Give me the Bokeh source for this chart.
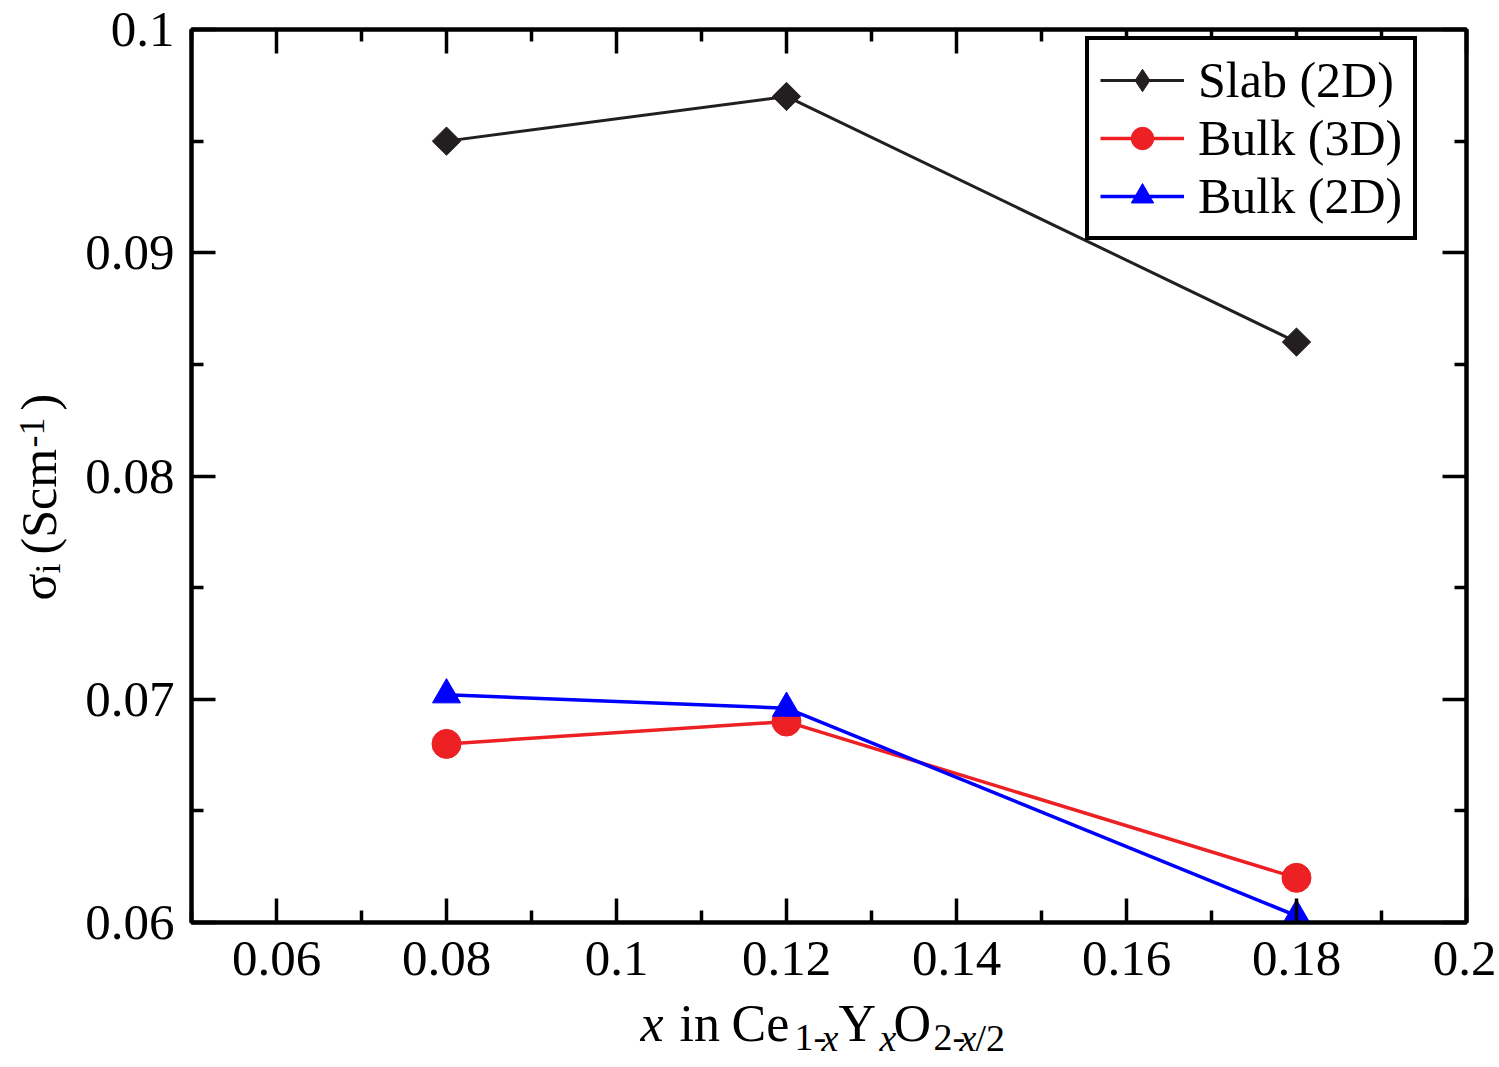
from bokeh.plotting import figure
from bokeh.layouts import row, column
from bokeh.models import (FixedTicker, LinearAxis, Range1d, Legend, LegendItem, Label,
                          CustomJSTickFormatter)
from bokeh.embed import file_html
from bokeh.resources import INLINE
import numpy as np

# ---------------- data ----------------
x_vals = [0.08, 0.12, 0.18]
slab_2d = [0.0950, 0.0970, 0.0860]
bulk_3d = [0.0680, 0.0690, 0.0620]
bulk_2d = [0.0702, 0.0696, 0.0603]

x_major = [0.06, 0.08, 0.1, 0.12, 0.14, 0.16, 0.18, 0.2]
x_labels = ["0.06", "0.08", "0.1", "0.12", "0.14", "0.16", "0.18", "0.2"]
x_minor = [0.05, 0.07, 0.09, 0.11, 0.13, 0.15, 0.17, 0.19]
y_major = [0.06, 0.07, 0.08, 0.09, 0.1]
y_labels = ["0.06", "0.07", "0.08", "0.09", "0.1"]
y_minor = [0.065, 0.075, 0.085, 0.095]

series_names = ["Slab (2D)", "Bulk (3D)", "Bulk (2D)"]

FONT = "Liberation Serif"
BLACK = "#231f20"
RED = "#ed2024"
BLUE = "#0000ff"

YLAB_W = 80
MAIN_W = 1416
MAIN_H = 993
XLAB_H = 73
FRAME_TOP = 29
FRAME_BOTTOM = 922

p = figure(width=MAIN_W, height=MAIN_H, x_range=Range1d(0.05, 0.2), y_range=Range1d(0.06, 0.1),
           output_backend="svg", toolbar_location=None,
           min_border_left=111, min_border_right=MAIN_W - 1386, min_border_top=FRAME_TOP,
           min_border_bottom=MAIN_H - FRAME_BOTTOM)
p.xgrid.visible = False
p.ygrid.visible = False
p.outline_line_color = "black"
p.outline_line_width = 4
p.background_fill_color = "white"
p.border_fill_color = "white"

fmt = CustomJSTickFormatter(code="return String(parseFloat(tick.toFixed(4)));")
empty_fmt = CustomJSTickFormatter(code="return '';")


def style_axis(ax, labels, ticks, minor, show):
    ax.ticker = FixedTicker(ticks=ticks, minor_ticks=minor)
    ax.axis_line_width = 4
    ax.axis_line_color = "black"
    ax.major_tick_line_width = 3.5
    ax.minor_tick_line_width = 3.5
    ax.major_tick_in = 24
    ax.major_tick_out = 0
    ax.minor_tick_in = 12
    ax.minor_tick_out = 0
    if show:
        ax.formatter = fmt
        ax.major_label_overrides = {t: l for t, l in zip(ticks, labels)}
        ax.major_label_text_font = FONT
        ax.major_label_text_font_size = "51px"
        ax.major_label_text_color = "black"
    else:
        ax.formatter = empty_fmt
        ax.major_label_text_font_size = "1px"
        ax.major_label_standoff = 0


style_axis(p.xaxis[0], x_labels, x_major, x_minor, True)
p.xaxis[0].major_label_standoff = 19
p.xaxis[0].major_label_text_line_height = 1.0
style_axis(p.yaxis[0], y_labels, y_major, y_minor, True)
p.yaxis[0].major_label_standoff = 17

top = LinearAxis()
right = LinearAxis()
style_axis(top, x_labels, x_major, x_minor, False)
style_axis(right, y_labels, y_major, y_minor, False)
p.add_layout(top, "above")
p.add_layout(right, "right")

# ---------------- series ----------------
l1 = p.line(x_vals, slab_2d, line_color=BLACK, line_width=3)
# diamond drawn under the rotated square: it is hidden in the plot but gives the legend its swatch
m1_key = p.scatter(x_vals, slab_2d, marker="diamond", size=19, fill_color=BLACK, line_color=BLACK)
m1 = p.scatter(x_vals, slab_2d, marker="square", angle=np.pi / 4, size=20,
               fill_color=BLACK, line_color=BLACK)
l2 = p.line(x_vals, bulk_3d, line_color=RED, line_width=3.5)
m2 = p.scatter(x_vals, bulk_3d, marker="circle", size=29, fill_color=RED, line_color=RED)
l3 = p.line(x_vals, bulk_2d, line_color=BLUE, line_width=3.5)
m3 = p.scatter(x_vals, bulk_2d, marker="triangle", size=28, fill_color=BLUE, line_color=BLUE)

legend = Legend(items=[
    LegendItem(label=series_names[0], renderers=[l1, m1_key]),
    LegendItem(label=series_names[1], renderers=[l2, m2]),
    LegendItem(label=series_names[2], renderers=[l3, m3]),
], location=(894, 682))
legend.label_text_font = FONT
legend.label_text_font_size = "50px"
legend.label_text_color = "black"
legend.glyph_width = 84
legend.glyph_height = 56
legend.label_height = 56
legend.label_standoff = 14
legend.padding = 11
legend.spacing = 0
legend.margin = 0
legend.border_line_color = "black"
legend.border_line_alpha = 1.0
legend.border_line_width = 4
legend.background_fill_color = "white"
legend.background_fill_alpha = 1
p.add_layout(legend)


# ---------------- axis titles (rich text built from pieces) ----------------
def blank_fig(w, h):
    f = figure(width=w, height=h, x_range=Range1d(0, w), y_range=Range1d(0, h),
               output_backend="svg", toolbar_location=None,
               x_axis_type=None, y_axis_type=None,
               min_border=0, min_border_left=0, min_border_right=0,
               min_border_top=0, min_border_bottom=0)
    f.outline_line_color = None
    f.xgrid.visible = False
    f.ygrid.visible = False
    f.background_fill_color = "white"
    f.border_fill_color = "white"
    return f


def lab(f, text, x, y, size, italic=False, angle=0.0):
    f.add_layout(Label(x=x, y=y, x_units="screen", y_units="screen", text=text,
                       text_font=FONT, text_font_size=size,
                       text_font_style="italic" if italic else "normal",
                       text_color="black", text_align="left", text_baseline="alphabetic",
                       text_line_height=1.0, angle=angle))


# y title: sigma_i (Scm^-1), rotated
fy = blank_fig(YLAB_W, MAIN_H)
A = np.pi / 2
lab(fy, "σ", 38, 322, "50px", angle=A)
lab(fy, "i", 47, 349, "36px", angle=A)
lab(fy, "(Scm", 38, 368, "50px", angle=A)
lab(fy, "-1", 31, 475, "36px", angle=A)
lab(fy, ")", 38, 512, "50px", angle=A)

# x title:  x in Ce(1-x) Y(x) O(2-x/2)
TOTAL_W = YLAB_W + MAIN_W
fx = blank_fig(TOTAL_W, XLAB_H)
MAIN = "52px"
SUB = "38px"
BASE = 43
SB = 29
lab(fx, "x", 640, BASE, MAIN, italic=True)
lab(fx, "in", 679, BASE, MAIN)
lab(fx, "Ce", 731, BASE, MAIN)
lab(fx, "1-", 794, SB, SUB)
lab(fx, "x", 821, SB, SUB, italic=True)
lab(fx, "Y", 838, BASE, MAIN)
lab(fx, "x", 879, SB, SUB, italic=True)
lab(fx, "O", 893, BASE, MAIN)
lab(fx, "2-", 933, SB, SUB)
lab(fx, "x", 959, SB, SUB, italic=True)
lab(fx, "/2", 975, SB, SUB)

page = column(row(fy, p, spacing=0), fx, spacing=0)

open("out.html", "w").write(file_html(page, INLINE))
